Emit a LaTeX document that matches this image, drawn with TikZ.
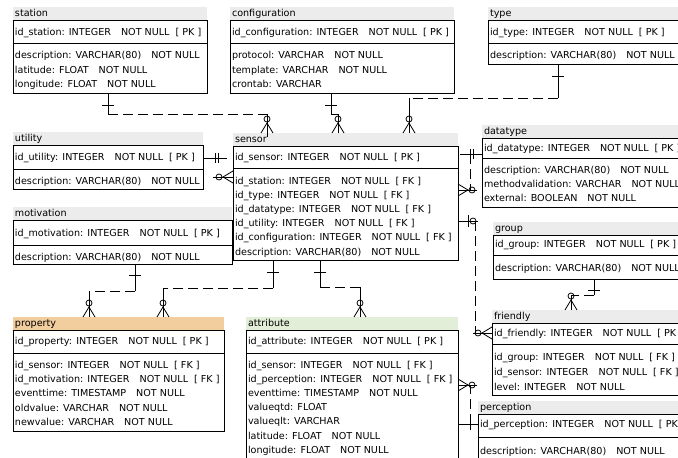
\documentclass[tikz,border=0pt]{standalone}
\usepackage{fontspec}
\setmainfont{DejaVu Sans}
\definecolor{titlegray}{HTML}{ECECEC}
\definecolor{proptitle}{HTML}{F2CD9D}
\definecolor{attrtitle}{HTML}{E2EED8}
\newcommand{\erdgA}{\hspace{10pt}}
\newcommand{\erdgB}{\hspace{6pt}}
\newcommand{\erdNN}{\erdgA NOT NULL}
\newcommand{\erdPK}{\erdgA NOT NULL\erdgB[ PK ]}
\newcommand{\erdFK}{\erdgA NOT NULL\erdgB[ FK ]}
\tikzset{
  conn/.style={line width=0.8pt, black},
  reldash/.style={conn, dash pattern=on 10pt off 5pt},
  tblline/.style={line width=0.8pt, black},
  tblbox/.style={draw=black, line width=0.8pt, anchor=north west, inner sep=0pt, outer sep=0pt},
  rowtext/.style={anchor=base west, inner sep=0pt, font=\fontsize{9.6}{11}\selectfont},
  tbltitle/.style={anchor=base west, inner sep=0pt, font=\fontsize{9.6}{11}\selectfont},
  pics/erdmany/.style={code={\draw[conn] (-6,0) -- (0,-10) -- (6,0); \draw[conn] (0,0) -- (0,-10); \draw[conn] (0,-14) circle[radius=3];}},
  pics/erdone/.style={code={\draw[conn] (-6,-#1) -- (6,-#1);}},
  pics/erdtwo/.style={code={\draw[conn] (-5,-#1) -- (5,-#1); \draw[conn] (-5,-#1-3) -- (5,-#1-3);}},
  pics/erdzo/.style={code={\draw[conn] (-6,-10) -- (6,-10); \draw[conn] (0,-15) circle[radius=3];}},
}
% name, L, R, B0 (box top), D (divider), E (bottom), fill, title
\newcommand{\erdtable}[8]{%
  \fill[#7] (#2,#4-13) rectangle (#3,#4);
  \node[tbltitle] (#1-title) at (#2+1.8,#4-3.3) {#8};
  \pgfmathsetmacro\erdW{#3-#2}\pgfmathsetmacro\erdH{#6-#4}%
  \node[tblbox, minimum width=\erdW pt, minimum height=\erdH pt] (#1) at (#2,#4) {};
  \draw[tblline] (#2,#5) -- (#3,#5);
}
\newcommand{\erdrow}[4]{\node[rowtext] (#1) at (#2,#3+3.6) {#4};}
\begin{document}
\begin{tikzpicture}[x=1pt,y=-1pt]
\useasboundingbox (0,0) rectangle (678,458);
\clip (0,0) rectangle (678,458);

% ---------- tables ----------
\erdtable{station}{13}{207}{20}{43}{93}{titlegray}{station}
\erdrow{station-1}{14.8}{32}{id\_station: INTEGER\erdPK}
\erdrow{station-2}{14.8}{55}{description: VARCHAR(80)\erdNN}
\erdrow{station-3}{14.8}{70}{latitude: FLOAT\erdNN}
\erdrow{station-4}{14.8}{84}{longitude: FLOAT\erdNN}

\erdtable{configuration}{230}{454}{20}{43}{93}{titlegray}{configuration}
\erdrow{configuration-1}{231.8}{32}{id\_configuration: INTEGER\erdPK}
\erdrow{configuration-2}{231.8}{55}{protocol: VARCHAR\erdNN}
\erdrow{configuration-3}{231.8}{70}{template: VARCHAR\erdNN}
\erdrow{configuration-4}{231.8}{84}{crontab: VARCHAR}

\erdtable{type}{488}{720}{20}{43}{64}{titlegray}{type}
\erdrow{type-1}{489.8}{32}{id\_type: INTEGER\erdPK}
\erdrow{type-2}{489.8}{55}{description: VARCHAR(80)\erdNN}

\erdtable{utility}{13}{203}{145}{169}{189}{titlegray}{utility}
\erdrow{utility-1}{14.8}{157}{id\_utility: INTEGER\erdPK}
\erdrow{utility-2}{14.8}{181}{description: VARCHAR(80)\erdNN}

\erdtable{motivation}{13}{232}{220}{245}{264}{titlegray}{motivation}
\erdrow{motivation-1}{14.8}{233}{id\_motivation: INTEGER\erdPK}
\erdrow{motivation-2}{14.8}{257}{description: VARCHAR(80)\erdNN}

\erdtable{sensor}{233}{458}{146}{168}{260}{titlegray}{sensor}
\erdrow{sensor-1}{234.8}{157}{id\_sensor: INTEGER\erdPK}
\erdrow{sensor-2}{234.8}{181}{id\_station: INTEGER\erdFK}
\erdrow{sensor-3}{234.8}{195}{id\_type: INTEGER\erdFK}
\erdrow{sensor-4}{234.8}{209}{id\_datatype: INTEGER\erdFK}
\erdrow{sensor-5}{234.8}{223}{id\_utility: INTEGER\erdFK}
\erdrow{sensor-6}{234.8}{237}{id\_configuration: INTEGER\erdFK}
\erdrow{sensor-7}{234.8}{252}{description: VARCHAR(80)\erdNN}

\erdtable{datatype}{482}{720}{138}{158}{207}{titlegray}{datatype}
\erdrow{datatype-1}{483.8}{148}{id\_datatype: INTEGER\erdPK}
\erdrow{datatype-2}{483.8}{170}{description: VARCHAR(80)\erdNN}
\erdrow{datatype-3}{483.8}{184}{methodvalidation: VARCHAR\erdNN}
\erdrow{datatype-4}{483.8}{198}{external: BOOLEAN\erdNN}

\erdtable{group}{493}{720}{235}{255}{279}{titlegray}{group}
\erdrow{group-1}{494.8}{244}{id\_group: INTEGER\erdPK}
\erdrow{group-2}{494.8}{268}{description: VARCHAR(80)\erdNN}

\erdtable{friendly}{492}{720}{323}{344}{395}{titlegray}{friendly}
\erdrow{friendly-1}{493.8}{333}{id\_friendly: INTEGER\erdPK}
\erdrow{friendly-2}{493.8}{357}{id\_group: INTEGER\erdFK}
\erdrow{friendly-3}{493.8}{372}{id\_sensor: INTEGER\erdFK}
\erdrow{friendly-4}{493.8}{387}{level: INTEGER\erdNN}

\erdtable{perception}{478}{720}{414}{437}{480}{titlegray}{perception}
\erdrow{perception-1}{479.8}{424}{id\_perception: INTEGER\erdPK}
\erdrow{perception-2}{479.8}{451}{description: VARCHAR(80)\erdNN}

\erdtable{property}{13}{224}{330}{353}{431}{proptitle}{property}
\erdrow{property-1}{14.8}{341}{id\_property: INTEGER\erdPK}
\erdrow{property-2}{14.8}{365}{id\_sensor: INTEGER\erdFK}
\erdrow{property-3}{14.8}{379}{id\_motivation: INTEGER\erdFK}
\erdrow{property-4}{14.8}{393}{eventtime: TIMESTAMP\erdNN}
\erdrow{property-5}{14.8}{408}{oldvalue: VARCHAR\erdNN}
\erdrow{property-6}{14.8}{422}{newvalue: VARCHAR\erdNN}

\erdtable{attribute}{246}{458}{330}{353}{480}{attrtitle}{attribute}
\erdrow{attribute-1}{247.8}{341}{id\_attribute: INTEGER\erdPK}
\erdrow{attribute-2}{247.8}{365}{id\_sensor: INTEGER\erdFK}
\erdrow{attribute-3}{247.8}{379}{id\_perception: INTEGER\erdFK}
\erdrow{attribute-4}{247.8}{393}{eventtime: TIMESTAMP\erdNN}
\erdrow{attribute-5}{247.8}{407}{valueqtd: FLOAT}
\erdrow{attribute-6}{247.8}{421}{valueqlt: VARCHAR}
\erdrow{attribute-7}{247.8}{436}{latitude: FLOAT\erdNN}
\erdrow{attribute-8}{247.8}{450}{longitude: FLOAT\erdNN}

% ---------- connectors ----------
% station -> sensor
\coordinate (c-st1) at (108,114);
\coordinate (c-st2) at (267,114);
\draw[conn] (108,0 |- station.south) -- (c-st1);
\draw[reldash] (c-st1) -- (c-st2);
\draw[conn] (c-st2) -- (267,0 |- sensor-title.north -| 267,133);
\pic[rotate=180] at (108,93) {erdone=12};
\pic at (267,133) {erdmany};

% configuration -> sensor
\coordinate (c-cf1) at (331,114);
\coordinate (c-cf2) at (338,114);
\draw[conn] (331,0 |- configuration.south) -- (c-cf1) -- (c-cf2) -- (338,133);
\pic[rotate=180] at (331,93) {erdone=12};
\pic at (338,133) {erdmany};

% type -> sensor
\coordinate (c-ty1) at (558,98);
\coordinate (c-ty2) at (409,98);
\draw[conn] (558,0 |- type.south) -- (c-ty1);
\draw[reldash] (c-ty1) -- (c-ty2);
\draw[conn] (c-ty2) -- (409,133);
\pic[rotate=180] at (558,64) {erdone=12};
\pic at (409,133) {erdmany};

% utility -> sensor
\coordinate (c-ut1) at (227,158);
\coordinate (c-ut2) at (213,177);
\draw[conn] (utility.east |- 0,158) -- (c-ut1);
\draw[conn] (c-ut2) -- (sensor.west |- 0,177);
\pic[rotate=-90] at (203,158) {erdtwo=12};
\pic[rotate=90] at (233,177) {erdmany};

% datatype -> sensor
\coordinate (c-dt1) at (460,154);
\coordinate (c-dt2) at (470,154);
\coordinate (c-dt3) at (470,190);
\coordinate (c-dt4) at (477,190);
\draw[conn] (datatype.west |- 0,154) -- (c-dt1);
\draw[reldash] (c-dt2) -- (c-dt3);
\draw[conn] (c-dt4) -- (sensor.east |- 0,190);
\pic[rotate=90] at (482,154) {erdtwo=9};
\pic[rotate=-90] at (458,190) {erdmany};

% sensor -> friendly
\coordinate (c-fr1) at (478,221);
\coordinate (c-fr2) at (475,221);
\coordinate (c-fr3) at (475,333);
\coordinate (c-fr4) at (473,333);
\draw[conn] (sensor.east |- 0,221) -- (c-fr1);
\draw[reldash] (c-fr2) -- (c-fr3);
\draw[conn] (c-fr4) -- (friendly.west |- 0,333);
\pic[rotate=-90] at (458,221) {erdzo};
\pic[rotate=90] at (492,333) {erdmany};

% group -> friendly
\coordinate (c-gr1) at (594,295);
\coordinate (c-gr2) at (571,295);
\draw[conn] (594,0 |- group.south) -- (c-gr1);
\draw[reldash] (c-gr1) -- (c-gr2);
\draw[conn] (c-gr2) -- (571,310);
\pic[rotate=180] at (594,279) {erdone=11};
\pic at (571,310) {erdmany};

% sensor -> property
\coordinate (c-pr1) at (273,288);
\coordinate (c-pr2) at (163,288);
\draw[conn] (273,0 |- sensor.south) -- (c-pr1);
\draw[reldash] (c-pr1) -- (c-pr2);
\draw[conn] (c-pr2) -- (163,317);
\pic[rotate=180] at (273,260) {erdone=12};
\pic at (163,317) {erdmany};

% motivation -> property
\coordinate (c-mo1) at (135,291);
\coordinate (c-mo2) at (89,291);
\draw[conn] (135,0 |- motivation.south) -- (c-mo1);
\draw[reldash] (c-mo1) -- (c-mo2);
\draw[conn] (c-mo2) -- (89,317);
\pic[rotate=180] at (135,264) {erdone=11};
\pic at (89,317) {erdmany};

% sensor -> attribute
\coordinate (c-at1) at (320,287);
\coordinate (c-at2) at (360,287);
\draw[conn] (320,0 |- sensor.south) -- (c-at1);
\draw[reldash] (c-at1) -- (c-at2);
\draw[conn] (c-at2) -- (360,317);
\pic[rotate=180] at (320,260) {erdone=12};
\pic at (360,317) {erdmany};

% perception -> attribute
\coordinate (c-pe1) at (470,424);
\coordinate (c-pe2) at (470,385);
\coordinate (c-pe3) at (477,385);
\draw[conn] (perception.west |- 0,424) -- (attribute.east |- 0,424);
\draw[reldash] (c-pe1) -- (c-pe2);
\draw[conn] (c-pe3) -- (attribute.east |- 0,385);
\pic[rotate=90] at (478,424) {erdone=8};
\pic[rotate=-90] at (458,385) {erdmany};
\end{tikzpicture}
\end{document}
